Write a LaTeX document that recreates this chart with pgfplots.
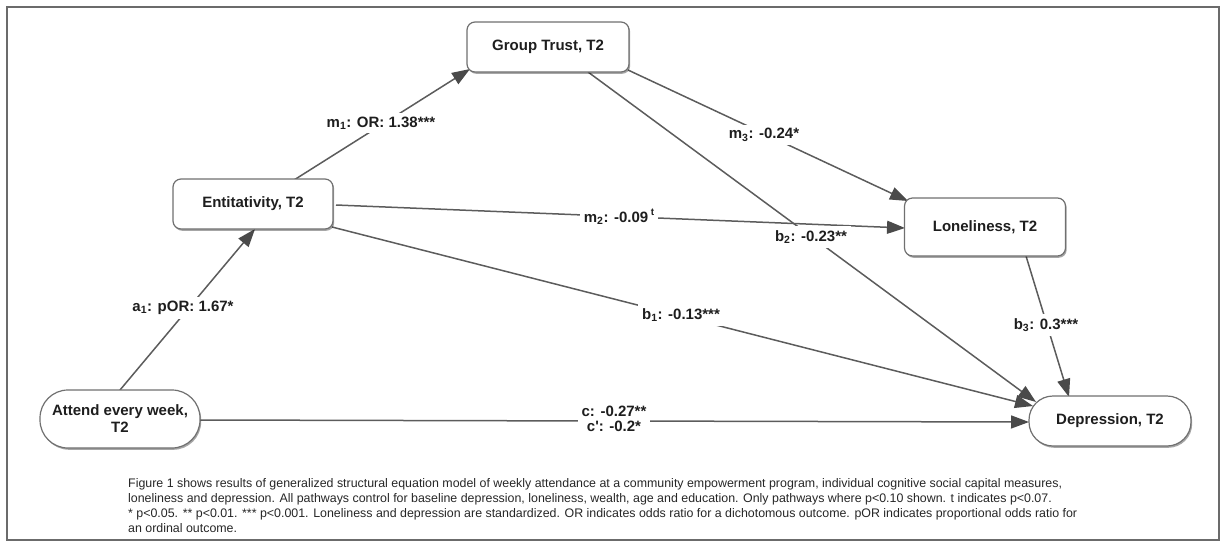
\documentclass[border=0pt]{standalone}
\usepackage{fontspec}
\setmainfont{Liberation Sans}
\usepackage{pgfplots}
\pgfplotsset{compat=1.18}
\usetikzlibrary{arrows.meta,shadows}
\definecolor{edgecol}{HTML}{5C5C5C}
\definecolor{headcol}{HTML}{4A4A4A}
\definecolor{boxcol}{HTML}{707070}
\definecolor{txtcol}{HTML}{1E1E1E}
\definecolor{capcol}{HTML}{262626}
\tikzset{
  edge/.style={edgecol, line width=1.5pt, mark=none, -{Triangle[length=18pt,width=13pt,color=headcol]}},
  box/.style={draw=boxcol, line width=1.2pt, fill=white, text=txtcol,
    font=\fontsize{15}{17}\selectfont\bfseries, align=center, inner sep=0pt,
    drop shadow={shadow xshift=1.2pt, shadow yshift=-1.8pt, fill=black, opacity=0.35}},
  lab/.style={fill=white, text=txtcol, font=\fontsize{15}{15}\selectfont\bfseries, inner sep=4pt, align=center},
}
\begin{document}
\begin{tikzpicture}
\begin{axis}[
  scale only axis, width=1226pt, height=547pt,
  xmin=0, xmax=1226, ymin=0, ymax=547, y dir=reverse,
  hide axis, clip=false,
]
\path (axis cs:0,0) rectangle (axis cs:1226,547);
\draw[black!58, line width=2pt] (axis cs:7,7) rectangle (axis cs:1219,540);

% paths (coordinates in picture pixels, y downward)
\addplot[edge] coordinates {(120,390) (255,229)};   % a1
\addplot[edge] coordinates {(294,180) (470,69)};    % m1
\addplot[edge] coordinates {(336,205) (905,228)};   % m2
\addplot[edge] coordinates {(628,70) (908,201)};    % m3
\addplot[edge] coordinates {(588,72) (1036,402)};   % b2
\addplot[edge] coordinates {(332,227) (1033,406)};  % b1
\addplot[edge] coordinates {(1026,256) (1069,397)}; % b3
\addplot[edge] coordinates {(200,420) (1029,422)};  % c

% coefficient labels
\node[lab] at (axis cs:183,308) {a\textsubscript{1}: pOR: 1.67*};
\node[lab] at (axis cs:381,123) {m\textsubscript{1}: OR: 1.38***};
\node[lab] at (axis cs:619,217) {m\textsubscript{2}: -0.09\,\raisebox{7pt}{\fontsize{10}{10}\selectfont t}};
\node[lab] at (axis cs:764,135) {m\textsubscript{3}: -0.24*};
\node[lab] at (axis cs:811,237) {b\textsubscript{2}: -0.23**};
\node[lab] at (axis cs:681,315) {b\textsubscript{1}: -0.13***};
\node[lab] at (axis cs:1046,325) {b\textsubscript{3}: 0.3***};
\node[lab] at (axis cs:614,419) {c: -0.27**\\c\textquotesingle: -0.2*};

% variables
\node[box, minimum width=162pt, minimum height=50pt, rounded corners=8pt] at (axis cs:548,47) {Group Trust, T2};
\node[box, minimum width=160pt, minimum height=50pt, rounded corners=8pt] at (axis cs:253,204) {Entitativity, T2};
\node[box, minimum width=161pt, minimum height=58pt, rounded corners=8pt] at (axis cs:985,227) {Loneliness, T2};
\node[box, minimum width=160pt, minimum height=58pt, rounded corners=28pt] at (axis cs:120,419) {Attend every week,\\T2};
\node[box, minimum width=162pt, minimum height=50pt, rounded corners=24pt] at (axis cs:1110,421) {Depression, T2};

% caption
\node[anchor=north west, align=left, text=capcol, inner sep=0pt,
  font=\fontsize{12.4}{15}\selectfont] at (axis cs:128,478)
 {Figure 1 shows results of generalized structural equation model of weekly attendance at a community empowerment program, individual cognitive social capital measures,\\
  loneliness and depression. All pathways control for baseline depression, loneliness, wealth, age and education. Only pathways where p<0.10 shown. t indicates p<0.07.\\
  * p<0.05. ** p<0.01. *** p<0.001. Loneliness and depression are standardized. OR indicates odds ratio for a dichotomous outcome. pOR indicates proportional odds ratio for\\
  an ordinal outcome.};
\end{axis}
\end{tikzpicture}
\end{document}
